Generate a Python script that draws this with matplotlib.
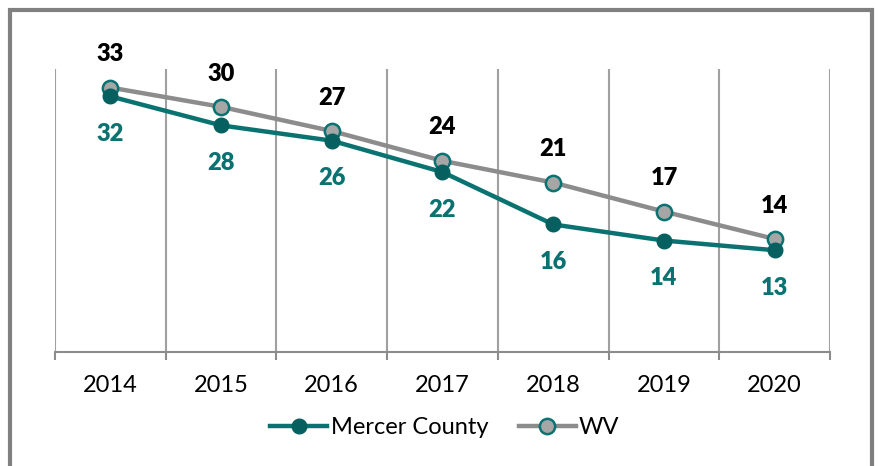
import matplotlib
matplotlib.use("Agg")
import matplotlib.pyplot as plt
from matplotlib.patches import Rectangle
import numpy as np

years = ["2014", "2015", "2016", "2017", "2018", "2019", "2020"]
mercer = [31.7, 28.1, 26.2, 22.3, 15.8, 13.8, 12.6]
wv = [32.8, 30.4, 27.4, 23.7, 21.0, 17.4, 14.0]

teal = "#0b7272"
teal_dark = "#05605f"
gray = "#8c8c8c"

plt.rcParams['font.family'] = ['Lato', 'DejaVu Sans']

fig = plt.figure(figsize=(8.79, 4.66), dpi=100)
W, H = 879, 466
ax = fig.add_axes([55/W, 1-351.7/H, (830-55)/W, (351.7-69)/H])

x = np.arange(len(years))
ax.plot(x, wv, color=gray, lw=3.2, marker='o', ms=11, mfc="#a6a6a6",
        mec=teal, mew=1.8, label="WV", zorder=3)
ax.plot(x, mercer, color=teal, lw=3.2, marker='o', ms=10.5, mfc=teal_dark,
        mec=teal_dark, label="Mercer County", zorder=4)

for xi, v in zip(x, wv):
    ax.annotate(f"{v:.0f}", (xi, v), xytext=(0, 24), textcoords='offset points',
                ha='center', va='center', fontsize=17, fontweight='heavy', color='black')
for xi, v in zip(x, mercer):
    ax.annotate(f"{v:.0f}", (xi, v), xytext=(0, -27), textcoords='offset points',
                ha='center', va='center', fontsize=17, fontweight='heavy', color=teal)

ax.set_xlim(-0.5, len(years) - 0.5)
ax.set_ylim(0, 35.1)
ax.set_yticks([])
ax.set_xticks(x)
ax.set_xticklabels(years, fontsize=17)
ax.set_xticks(np.arange(-0.5, len(years)), minor=True)
ax.tick_params(axis='x', which='major', length=0, pad=17)
ax.tick_params(axis='x', which='minor', length=6, width=1.5, color="#8c8c8c")
for b in np.arange(-0.5, len(years)):
    ax.axvline(b, color="#a0a0a0", lw=1.5, zorder=1)
for s in ['top', 'right', 'left']:
    ax.spines[s].set_visible(False)
ax.spines['bottom'].set_color("#8c8c8c")
ax.spines['bottom'].set_linewidth(1.5)

handles, labels = ax.get_legend_handles_labels()
leg = fig.legend(handles[::-1], labels[::-1], loc='center', bbox_to_anchor=(445/W, 1-428/H),
                 ncol=2, frameon=False, fontsize=17, handlelength=2.4,
                 columnspacing=1.3, handletextpad=0.15)

fig.patches.append(Rectangle((9.5/W, -0.05), (872-9.5)/W, 1-10/H+0.05,
                             transform=fig.transFigure, fill=False,
                             edgecolor="#808080", lw=3))

fig.savefig("out.png", dpi=100)
